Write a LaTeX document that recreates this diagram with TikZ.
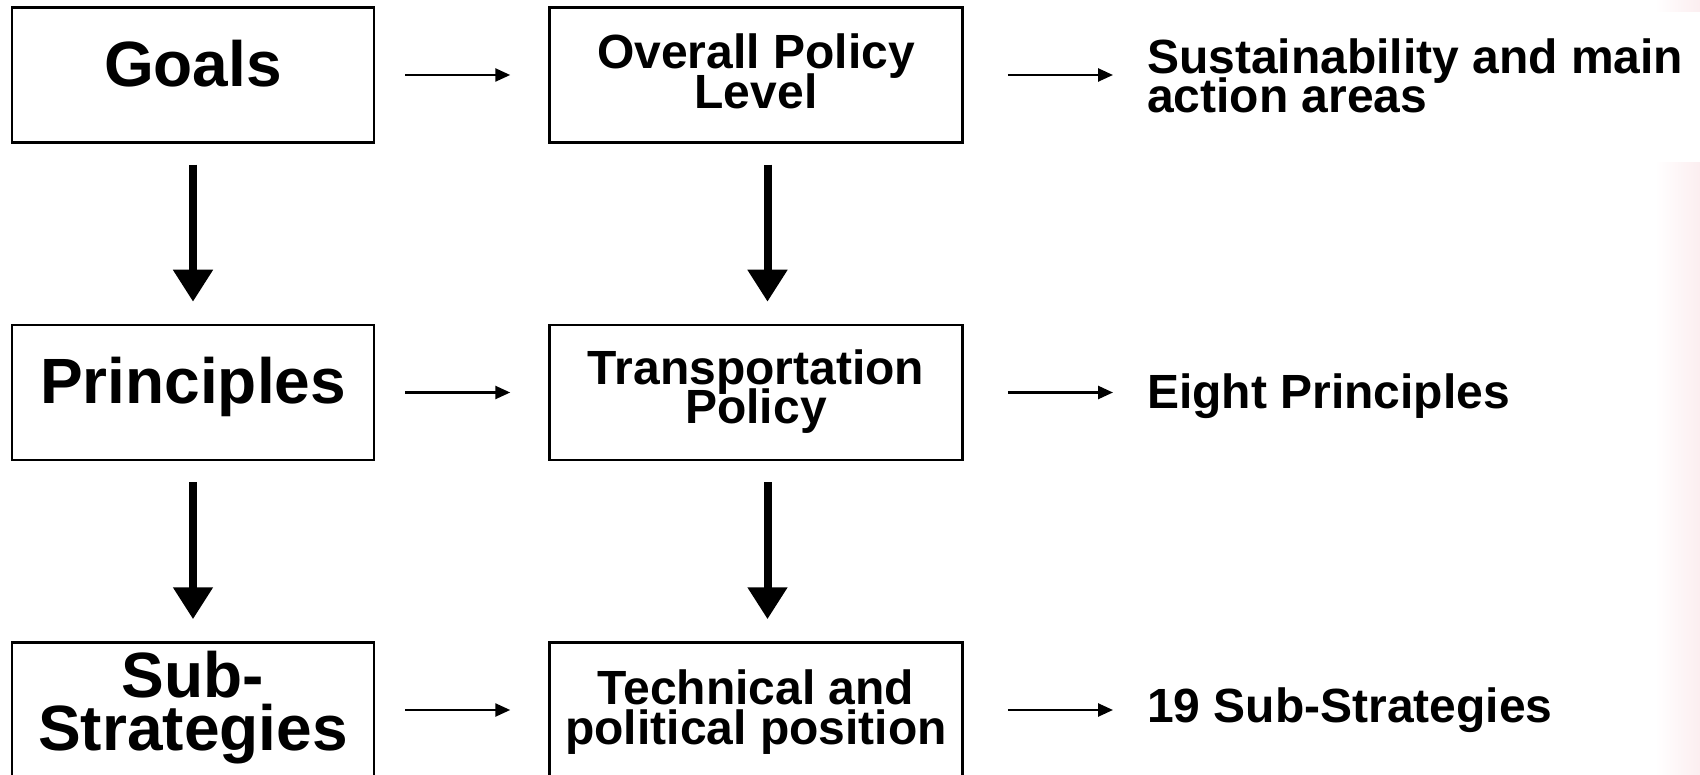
\documentclass[tikz,border=0pt]{standalone}
\usepackage{fontspec}
\setmainfont{Liberation Sans}
\usetikzlibrary{arrows.meta}
\definecolor{edgepink}{RGB}{252,238,240}
% fixed line pitch, even where descenders meet ascenders
\newcommand{\tightlines}{\lineskiplimit=-100pt\lineskip=0pt\relax}
\begin{document}
\begin{tikzpicture}[x=1pt,y=-1pt,
  box/.style={draw=black, line width=2.5pt, rectangle, inner sep=0pt, minimum height=135pt},
  leftbox/.style={box, minimum width=362pt},
  midbox/.style={box, minimum width=413pt},
  bigtxt/.style={font=\fontsize{64}{53}\selectfont\bfseries\tightlines, align=center, inner sep=0pt, anchor=base},
  smalltxt/.style={font=\fontsize{48}{39.5}\selectfont\bfseries\tightlines, align=center, inner sep=0pt, anchor=base},
  sidetxt/.style={font=\fontsize{48}{39.5}\selectfont\bfseries\tightlines, align=left, inner sep=0pt, anchor=base west},
  sidearrow/.style={line width=2.5pt, -{Triangle[length=15pt,width=13pt]}},
  leftarrow/.style={sidearrow, shorten <=30pt, shorten >=38pt},
  rightarrow/.style={sidearrow, shorten <=44pt, shorten >=34pt},
  droparrow/.style={line width=8pt, -{Triangle[length=32pt,width=38pt]}, shorten <=21pt, shorten >=22pt}
]
\useasboundingbox (0,0) rectangle (1700,775);
\fill[white] (0,0) rectangle (1700,775);
% faint tint along the right margin
\shade[left color=white, right color=edgepink] (1655,0) rectangle (1700,775);
\fill[white] (1560,12) rectangle (1700,162);

% framed boxes
\node[leftbox] (goals) at (193,75) {};
\node[leftbox] (princ) at (193,392.5) {};
\node[leftbox] (subs) at (193,710) {};
\node[midbox] (overall) at (756,75) {};
\node[midbox] (transp) at (756,392.5) {};
\node[midbox] (techn) at (756,710) {};

% box labels (multi-line labels are placed by their last baseline)
\node[bigtxt] (goalsT) at (193,86.7) {Goals};
\node[bigtxt] (princT) at (193,403) {Principles};
\node[bigtxt] (subsT) at (193,750) {Sub-\\Strategies};
\node[smalltxt] (overallT) at (756,108.4) {Overall Policy\\Level};
\node[smalltxt] (transpT) at (756,424) {Transportation\\Policy};
\node[smalltxt] (technT) at (756,744) {Technical and\\political position};

% outcome texts
\node[sidetxt] (sustT) at (1147,112.8) {Sustainability and main\\action areas};
\node[sidetxt] (eightT) at (1147,409) {Eight Principles};
\node[sidetxt] (nineT) at (1147,722) {19 Sub-Strategies};

% horizontal connectors
\draw[leftarrow] (goals.east) -- (overall.west);
\draw[leftarrow] (princ.east) -- (transp.west);
\draw[leftarrow] (subs.east) -- (techn.west);
\draw[rightarrow] (overall.east) -- (overall.east -| sustT.west);
\draw[rightarrow] (transp.east) -- (transp.east -| eightT.west);
\draw[rightarrow] (techn.east) -- (techn.east -| nineT.west);

% vertical connectors
\draw[droparrow] (goals.south) -- (princ.north);
\draw[droparrow] (princ.south) -- (subs.north);
\draw[droparrow] ([xshift=11.5pt]overall.south) -- ([xshift=11.5pt]transp.north);
\draw[droparrow] ([xshift=11.5pt]transp.south) -- ([xshift=11.5pt]techn.north);
\end{tikzpicture}
\end{document}
